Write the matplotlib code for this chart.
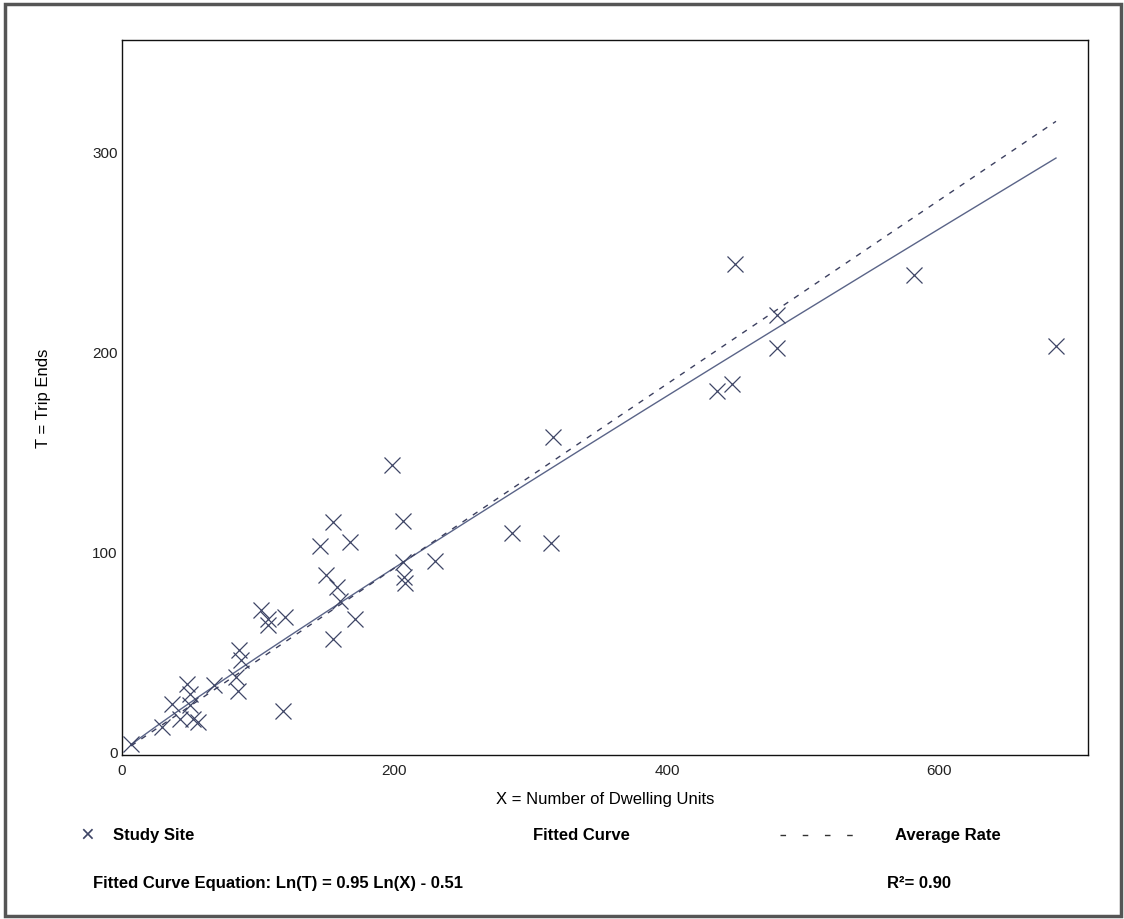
import numpy as np
import matplotlib.pyplot as plt
from matplotlib.patches import Rectangle

plt.rcParams['font.family'] = ['Liberation Sans', 'DejaVu Sans']

# study sites: dwelling units vs trip ends
units = [6.6, 29, 37, 42.5, 47.7, 50, 50, 52, 56, 67.5, 84, 85, 86, 87,
         102, 107, 107, 120, 118, 145, 150, 155, 155, 158, 160, 167, 171,
         198, 206, 206, 207, 208, 230, 286, 316, 315, 437, 448, 450, 481,
         481, 581, 685.5]
trips = [4, 12.5, 24, 16.5, 34, 29, 23.5, 16.5, 15, 33.5, 37.5, 30.5, 51, 46,
         71, 66.5, 63.5, 67.5, 20.5, 103, 88.5, 115, 56.5, 82.5, 75.5, 105, 66.5,
         143.5, 115.5, 95, 87.5, 84.5, 95.5, 109.5, 157.5, 104.5, 180.5, 184, 244, 218.5,
         202, 238.5, 203]

fit_b = 0.95
fit_a = -0.51
avg_rate = 0.46
xticks = [0, 200, 400, 600]
yticks = [0, 100, 200, 300]

fig = plt.figure(figsize=(11.24, 9.2), dpi=100)
ax = fig.add_axes([122 / 1124, 1 - 756 / 920, (1088 - 122) / 1124, (756 - 41) / 920])

xs = np.linspace(min(units), max(units), 200)
ax.plot(xs, np.exp(fit_a) * xs ** fit_b, color='#5a6488', lw=1.0)
ax.plot(xs, avg_rate * xs, color='#3c4060', lw=1.0, ls=(0, (4, 5)))
ax.plot(units, trips, 'x', color='#3e4566', ms=11, mew=0.9)

ax.set_xlim(0, 709)
ax.set_ylim(-1.5, 356)
ax.set_xticks(xticks)
ax.set_yticks(yticks)
ax.tick_params(length=0, labelsize=11, colors='#222222')
ax.tick_params(axis='y', pad=3)
ax.tick_params(axis='x', pad=6)
for s in ax.spines.values():
    s.set_linewidth(1.0)
    s.set_color('#111111')

ax.set_xlabel('X = Number of Dwelling Units', fontsize=12, labelpad=10)
ax.set_ylabel('T = Trip Ends', fontsize=12, labelpad=30)

# legend row
fig.text(80 / 1124, 1 - 836 / 920, '\u00d7', fontsize=17, color='#3e4566', va='center')
fig.text(113 / 1124, 1 - 836 / 920, 'Study Site', fontsize=12, weight='bold', va='center')
fig.text(533 / 1124, 1 - 836 / 920, 'Fitted Curve', fontsize=12, weight='bold', va='center')
fig.lines.append(plt.Line2D([780 / 1124, 865 / 1124], [1 - 836 / 920, 1 - 836 / 920],
                            transform=fig.transFigure, color='#333333', lw=1.0, ls=(0, (4, 12))))
fig.text(895 / 1124, 1 - 836 / 920, 'Average Rate', fontsize=12, weight='bold', va='center')
fig.text(93 / 1124, 1 - 884 / 920, 'Fitted Curve Equation: Ln(T) = 0.95 Ln(X) - 0.51',
         fontsize=12, weight='bold', va='center')
fig.text(887 / 1124, 1 - 884 / 920, 'R\u00b2= 0.90', fontsize=12, weight='bold', va='center')

# page frame
fig.patches.append(Rectangle((5 / 1124, 3 / 920), 1 - 8 / 1124, 1 - 8 / 920,
                             transform=fig.transFigure, fill=False,
                             edgecolor='#555555', lw=2.5))

fig.savefig('out.png', dpi=100)
